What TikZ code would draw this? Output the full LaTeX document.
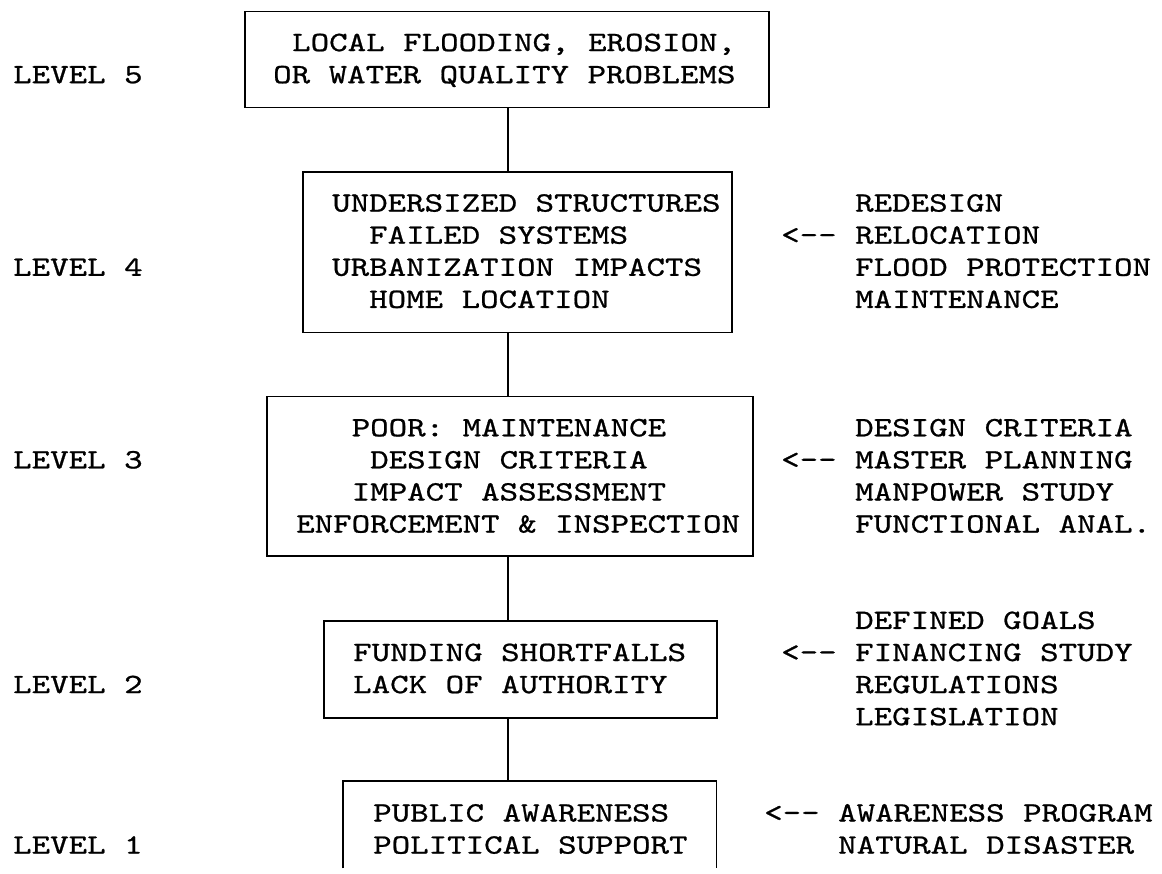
\documentclass[tikz,border=0pt]{standalone}
\usepackage{fontspec}
\newfontfamily\tw[FakeStretch=1.258,FakeBold=0.8]{lmmono10-regular.otf}
\def\Ry#1{19.0+32.1*#1}
\def\By#1{10.5+32.1*#1}
\begin{document}
\begin{tikzpicture}[x=1pt,y=-1pt,
  lbl/.style={anchor=base west,inner sep=0pt,font=\tw\fontsize{28}{32}\selectfont\frenchspacing},
  boxline/.style={line width=1.6pt,black},
  frame/.style={draw,boxline,inner sep=0pt,anchor=north west},
  hollow/.style={inner sep=0pt,anchor=north west}]
\useasboundingbox (0,0) rectangle (1162,873);
\fill[white] (0,0) rectangle (1162,873);

% boxes
\node[frame,minimum width=524pt,minimum height=96.3pt] (b5) at (244,{\By{0}}) {};
\node[frame,minimum width=429pt,minimum height=160.5pt] (b4) at (302,{\By{5}}) {};
\node[frame,minimum width=486pt,minimum height=159.5pt] (b3) at (266,{\By{12}}) {};
\node[frame,minimum width=393pt,minimum height=97pt] (b2) at (323,{\By{19}}) {};
\node[hollow,minimum width=373pt,minimum height=87pt] (b1) at (343,{\By{24}}) {};
\draw[boxline] (b1.south west) -- (b1.north west) -- (b1.north east) -- (b1.south east);

% spine connectors
\coordinate (spine) at (508,0);
\draw[boxline] (b5.south -| spine) -- (b4.north -| spine);
\draw[boxline] (b4.south -| spine) -- (b3.north -| spine);
\draw[boxline] (b3.south -| spine) -- (b2.north -| spine);
\draw[boxline] (b2.south -| spine) -- (b1.north -| spine);

% level labels
\node[lbl] (lv5) at (13,{\Ry{2}}) {LEVEL 5};
\node[lbl] (lv4) at (13,{\Ry{8}}) {LEVEL 4};
\node[lbl] (lv3) at (13,{\Ry{14}}) {LEVEL 3};
\node[lbl] (lv2) at (13,{\Ry{21}}) {LEVEL 2};
\node[lbl] (lv1) at (13,{\Ry{26}}) {LEVEL 1};

% box 5 text
\node[lbl] (t5a) at (292,{\Ry{1}}) {LOCAL FLOODING, EROSION,};
\node[lbl] (t5b) at (273,{\Ry{2}}) {OR WATER QUALITY PROBLEMS};

% box 4 text
\node[lbl] (t4a) at (332,{\Ry{6}}) {UNDERSIZED STRUCTURES};
\node[lbl] (t4b) at (369,{\Ry{7}}) {FAILED SYSTEMS};
\node[lbl] (t4c) at (332,{\Ry{8}}) {URBANIZATION IMPACTS};
\node[lbl] (t4d) at (369,{\Ry{9}}) {HOME LOCATION};

% box 3 text
\node[lbl] (t3a) at (351.5,{\Ry{13}}) {POOR: MAINTENANCE};
\node[lbl] (t3b) at (370,{\Ry{14}}) {DESIGN CRITERIA};
\node[lbl] (t3c) at (351.5,{\Ry{15}}) {IMPACT ASSESSMENT};
\node[lbl] (t3d) at (296,{\Ry{16}}) {ENFORCEMENT \& INSPECTION};

% box 2 text
\node[lbl] (t2a) at (353,{\Ry{20}}) {FUNDING SHORTFALLS};
\node[lbl] (t2b) at (353,{\Ry{21}}) {LACK OF AUTHORITY};

% box 1 text
\node[lbl] (t1a) at (373,{\Ry{25}}) {PUBLIC AWARENESS};
\node[lbl] (t1b) at (373,{\Ry{26}}) {POLITICAL SUPPORT};

% right side, level 4
\node[lbl] (ar4) at (781,{\Ry{7}}) {<\kern0pt-\kern0pt-};
\node[lbl] (r4a) at (855,{\Ry{6}}) {REDESIGN};
\node[lbl] (r4b) at (855,{\Ry{7}}) {RELOCATION};
\node[lbl] (r4c) at (855,{\Ry{8}}) {FLOOD PROTECTION};
\node[lbl] (r4d) at (855,{\Ry{9}}) {MAINTENANCE};

% right side, level 3
\node[lbl] (ar3) at (781,{\Ry{14}}) {<\kern0pt-\kern0pt-};
\node[lbl] (r3a) at (855,{\Ry{13}}) {DESIGN CRITERIA};
\node[lbl] (r3b) at (855,{\Ry{14}}) {MASTER PLANNING};
\node[lbl] (r3c) at (855,{\Ry{15}}) {MANPOWER STUDY};
\node[lbl] (r3d) at (855,{\Ry{16}}) {FUNCTIONAL ANAL.};

% right side, level 2
\node[lbl] (ar2) at (781,{\Ry{20}}) {<\kern0pt-\kern0pt-};
\node[lbl] (r2a) at (855,{\Ry{19}}) {DEFINED GOALS};
\node[lbl] (r2b) at (855,{\Ry{20}}) {FINANCING STUDY};
\node[lbl] (r2c) at (855,{\Ry{21}}) {REGULATIONS};
\node[lbl] (r2d) at (855,{\Ry{22}}) {LEGISLATION};

% right side, level 1
\node[lbl] (ar1) at (764,{\Ry{25}}) {<\kern0pt-\kern0pt-};
\node[lbl] (r1a) at (838,{\Ry{25}}) {AWARENESS PROGRAM};
\node[lbl] (r1b) at (838,{\Ry{26}}) {NATURAL DISASTER};
\end{tikzpicture}
\end{document}
